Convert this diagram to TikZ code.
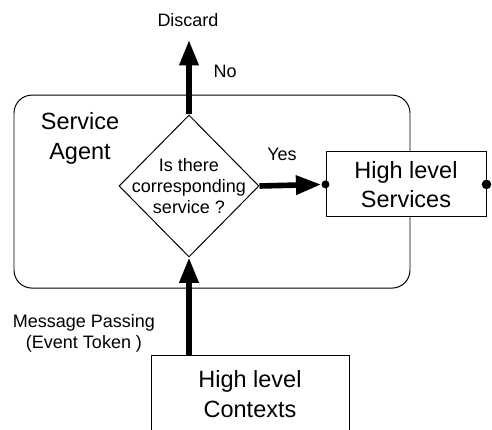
\documentclass[tikz,border=0pt]{standalone}
\usepackage{fontspec}
\setmainfont{Liberation Sans}
\usetikzlibrary{shapes.geometric,arrows.meta}

\begin{document}
\begin{tikzpicture}[>={Triangle[length=18pt,width=13pt]},
  flow/.style={->, line width=4pt},
  box/.style={draw, fill=white, line width=0.7pt, align=center, font=\fontsize{16.7}{21}\selectfont},
  big/.style={align=center, font=\fontsize{16.7}{21}\selectfont},
  small/.style={align=center, font=\fontsize{12.8}{15}\selectfont},
  dot/.style={circle, fill, inner sep=0pt, minimum size=0.2cm}]
\path[use as bounding box, clip] (0,0) rectangle (12.3,10.75);

%service agent frame
\node[draw, line width=0.7pt, rounded corners=0.45cm, minimum width=9.9cm, minimum height=4.825cm] (agent) at (5.3,5.96) {};
\node[big] (agentlbl) at (2.0,7.29) {Service\\Agent};

%decision
\node[draw, fill=white, diamond, line width=0.7pt, minimum width=3.5cm, minimum height=3.55cm, inner sep=0pt,
      label={[small]center:Is there\\corresponding\\service ?}] (q) at (4.725,6.1) {};

%boxes
\node[box, minimum width=4cm, minimum height=1.625cm] (srv) at (10.15,6.14) {High level\\Services};
\node[box, minimum width=4.95cm, minimum height=1.95cm] (ctx) at (6.25,0.9) {High level\\Contexts};

%dots on services
\node[dot] (din) at (srv.west) {};
\node[dot, minimum size=0.24cm] (dout) at (srv.east) {};

%arrows
\coordinate (dtip) at (4.725,9.75);
\draw[flow] (q.south |- ctx.north) -- (q.south);	%contexts--decision
\draw[flow] (q.north) -- (dtip);					%decision--discard
\draw[flow] (q.east) -- (din);						%decision--services

%labels
\node[small] (discard) at (4.7,10.25) {Discard};
\node[small] (no) at (5.63,8.975) {No};
\node[small] (yes) at (7.05,6.9) {Yes};
\node[small] (msg) at (2.1,2.41) {Message Passing\\(Event Token )};

\end{tikzpicture}
\end{document}
